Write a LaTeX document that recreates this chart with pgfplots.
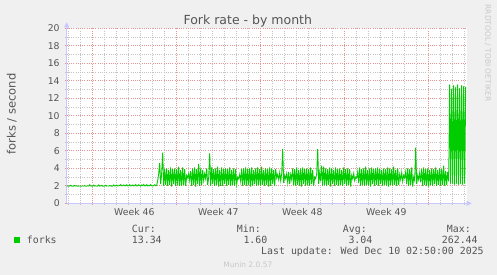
\documentclass[border=0pt]{standalone}
\usepackage{fontspec}
\setmainfont{DejaVu Sans}
\newfontfamily\monofont{DejaVu Sans Mono}
\usepackage{pgfplots}
\pgfplotsset{compat=1.18}
\usepackage{pgfplotstable}
\usetikzlibrary{arrows.meta}
\definecolor{bg}{HTML}{F0F0F0}
\definecolor{lineg}{HTML}{00CC00}
\definecolor{mgrid}{HTML}{E69494}
\definecolor{ngrid}{HTML}{C4C4C4}
\definecolor{axiscol}{HTML}{C8C8FF}
\definecolor{txt}{HTML}{555555}
\definecolor{wm}{HTML}{C8C8C8}

% forks per second, one value every 2 hours (x = hours from left edge)
\pgfplotstableread[row sep=\\]{
y\\
1.98\\ 1.97\\ 1.96\\ 1.98\\ 2.05\\ 1.97\\ 1.96\\ 1.97\\ 2.04\\ 1.98\\
1.97\\ 1.96\\ 1.98\\ 1.97\\ 1.96\\ 1.97\\ 1.98\\ 1.97\\ 2.02\\ 1.96\\
1.97\\ 1.98\\ 1.97\\ 2.12\\ 1.98\\ 1.97\\ 1.96\\ 2.08\\ 1.97\\ 1.98\\
1.97\\ 1.96\\ 2.10\\ 1.97\\ 1.98\\ 2.05\\ 1.97\\ 1.96\\ 1.98\\ 2.06\\
1.97\\ 1.98\\ 1.97\\ 2.04\\ 1.98\\ 1.96\\ 1.97\\ 2.10\\ 1.99\\ 2.00\\
2.08\\ 1.99\\ 2.00\\ 2.05\\ 2.14\\ 2.00\\ 2.01\\ 2.10\\ 2.02\\ 2.00\\
2.12\\ 1.99\\ 2.01\\ 2.13\\ 1.98\\ 2.00\\ 2.10\\ 1.99\\ 2.02\\ 2.14\\
1.98\\ 2.00\\ 2.12\\ 2.04\\ 1.97\\ 2.10\\ 2.00\\ 2.15\\ 1.99\\ 2.02\\
2.13\\ 1.98\\ 2.06\\ 2.01\\ 2.14\\ 2.00\\ 1.99\\ 2.02\\ 2.12\\ 2.00\\
2.05\\ 2.60\\ 3.40\\ 4.60\\ 2.20\\ 3.50\\ 5.80\\ 2.00\\ 3.90\\ 2.10\\
4.00\\ 2.00\\ 3.80\\ 2.10\\ 4.10\\ 1.90\\ 3.90\\ 2.20\\ 4.00\\ 2.00\\
3.90\\ 2.10\\ 4.20\\ 2.00\\ 3.80\\ 2.00\\ 4.10\\ 2.10\\ 3.90\\ 2.00\\
3.20\\ 2.90\\ 3.40\\ 2.60\\ 3.70\\ 2.00\\ 4.00\\ 2.10\\ 4.10\\ 1.90\\
3.90\\ 2.20\\ 4.50\\ 2.00\\ 4.00\\ 2.10\\ 3.80\\ 2.60\\ 3.40\\ 2.80\\
4.00\\ 2.10\\ 3.00\\ 5.70\\ 2.00\\ 4.10\\ 2.20\\ 3.90\\ 2.00\\ 4.00\\
2.10\\ 4.20\\ 1.90\\ 3.80\\ 2.00\\ 4.10\\ 2.00\\ 3.90\\ 2.20\\ 4.00\\
2.00\\ 3.90\\ 2.10\\ 4.10\\ 2.00\\ 3.80\\ 2.10\\ 4.00\\ 2.00\\ 3.90\\
2.20\\ 3.00\\ 2.80\\ 3.30\\ 2.50\\ 3.90\\ 2.00\\ 4.00\\ 2.10\\ 4.10\\
2.00\\ 3.90\\ 2.10\\ 4.00\\ 1.90\\ 4.10\\ 2.00\\ 3.80\\ 2.20\\ 4.00\\
2.00\\ 4.10\\ 2.10\\ 3.90\\ 2.00\\ 4.20\\ 2.10\\ 3.80\\ 2.00\\ 4.00\\
2.10\\ 3.90\\ 1.90\\ 4.10\\ 2.00\\ 4.00\\ 2.20\\ 3.80\\ 2.00\\ 3.90\\
2.90\\ 3.30\\ 2.70\\ 3.50\\ 2.60\\ 3.40\\ 6.20\\ 2.30\\ 3.20\\ 2.80\\
3.40\\ 2.40\\ 3.60\\ 2.20\\ 3.30\\ 2.70\\ 4.00\\ 2.10\\ 3.90\\ 2.00\\
4.10\\ 2.10\\ 3.80\\ 2.00\\ 4.00\\ 1.90\\ 4.10\\ 2.20\\ 3.90\\ 2.00\\
4.00\\ 2.10\\ 3.90\\ 2.00\\ 4.10\\ 2.20\\ 3.80\\ 2.00\\ 3.00\\ 2.80\\
3.40\\ 6.20\\ 2.20\\ 3.50\\ 2.50\\ 4.30\\ 2.00\\ 4.20\\ 2.10\\ 4.00\\
2.00\\ 3.90\\ 2.10\\ 4.10\\ 1.90\\ 4.00\\ 2.20\\ 3.80\\ 2.00\\ 4.10\\
2.10\\ 3.90\\ 2.00\\ 4.00\\ 2.10\\ 3.80\\ 2.00\\ 4.10\\ 2.20\\ 3.90\\
2.00\\ 4.00\\ 2.10\\ 3.90\\ 1.90\\ 3.20\\ 2.80\\ 3.40\\ 2.60\\ 3.00\\
2.90\\ 3.60\\ 2.30\\ 4.10\\ 2.00\\ 3.90\\ 2.10\\ 4.00\\ 2.00\\ 4.20\\
2.10\\ 3.80\\ 2.00\\ 4.00\\ 1.90\\ 4.10\\ 2.20\\ 3.90\\ 2.00\\ 4.00\\
2.10\\ 4.10\\ 2.00\\ 3.90\\ 2.20\\ 3.80\\ 2.00\\ 4.00\\ 2.10\\ 3.90\\
2.00\\ 4.10\\ 1.90\\ 4.00\\ 2.10\\ 3.90\\ 2.00\\ 4.20\\ 2.10\\ 3.80\\
2.00\\ 4.00\\ 2.10\\ 3.30\\ 2.70\\ 3.50\\ 2.50\\ 3.20\\ 2.90\\ 3.60\\
2.20\\ 4.00\\ 2.00\\ 3.90\\ 2.10\\ 4.10\\ 1.90\\ 3.00\\ 2.60\\ 6.35\\
2.20\\ 3.20\\ 2.70\\ 3.50\\ 2.40\\ 3.90\\ 2.00\\ 4.10\\ 2.10\\ 3.90\\
2.00\\ 4.00\\ 1.90\\ 3.80\\ 2.10\\ 4.00\\ 2.00\\ 3.90\\ 2.20\\ 4.10\\
2.00\\ 3.80\\ 2.10\\ 4.00\\ 2.00\\ 3.90\\ 2.10\\ 4.30\\ 2.00\\ 3.70\\
2.10\\ 3.60\\ 2.50\\ 13.60\\ 2.20\\ 13.10\\ 2.20\\ 13.50\\ 2.10\\ 13.30\\
2.20\\ 13.60\\ 2.10\\ 13.20\\ 2.20\\ 13.50\\ 2.10\\ 13.40\\ 2.20\\ 13.34\\
}\forks

\begin{document}
\begin{tikzpicture}[x=1pt,y=1pt]
\fill[bg] (0,0) rectangle (497,275);
\begin{axis}[
  at={(66.7pt,71.7pt)}, anchor=south west,
  scale only axis, width=400pt, height=175pt,
  xmin=0, xmax=800, ymin=0, ymax=20,
  axis background/.style={fill=white},
  axis lines=left,
  axis line style={axiscol, line width=0.8pt, -{Triangle[width=5pt,length=5pt]}},
  x axis line style={shorten >=-5pt},
  y axis line style={shorten >=-6pt},
  xtick={51.2,219.2,387.2,555.2,723.2}, xticklabels={},
  minor xtick={3.2,27.2,...,795.2},
  ytick={0,2,...,20}, minor ytick={1,3,...,19},
  grid=both,
  major grid style={mgrid, line width=0.6pt, dash pattern=on 1pt off 1.2pt},
  minor grid style={ngrid, line width=0.6pt, dash pattern=on 1pt off 1.2pt},
  tick align=outside, major tick length=2pt, minor tick length=2pt,
  tick style={ngrid, line width=0.6pt},
  major tick style={mgrid},
  extra x ticks={135.2,303.2,471.2,639.2},
  extra x tick labels={Week 46,Week 47,Week 48,Week 49},
  extra x tick style={grid=none, major tick length=0pt,
     tick style={draw=none}},
  ticklabel style={font=\fontsize{9.3}{10}\selectfont, text=txt},
  /pgf/number format/assume math mode=true,
  yticklabel style={xshift=-1.5pt},
  xticklabel style={anchor=base, yshift=-12.7pt},
  clip=true,
]
\addplot[lineg, line width=0.9pt, no marks] table[x expr=\coordindex*2, y=y] {\forks};
\end{axis}
% title and labels
\node[anchor=base, text=txt, font=\fontsize{12.5}{14}\selectfont] at (247.8,250.2) {Fork rate - by month};
\node[rotate=90, text=txt, font=\fontsize{11.5}{13}\selectfont] at (11.7,161) {forks / second};
\node[rotate=-90, text=wm, font=\fontsize{7.5}{9}\selectfont] at (487.7,222) {RRDTOOL / TOBI OETIKER};
% legend
\fill[lineg] (14,32.3) rectangle (20,38.3);
\begin{scope}[every node/.style={anchor=base west, inner sep=0pt, text=txt, font=\monofont\fontsize{9.9}{11}\selectfont}]
\node at (26.7,31.8) {forks};
\node at (131.7,42.8) {Cur:};
\node at (131.7,31.8) {13.34};
\node at (236.7,42.8) {Min:};
\node at (243.3,31.8) {1.60};
\node at (342.7,42.8) {Avg:};
\node at (348.3,31.8) {3.04};
\node at (446.7,42.8) {Max:};
\node at (441.7,31.8) {262.44};
\node at (261,20.5) {Last update: Wed Dec 10 02:50:00 2025};
\end{scope}
\node[text=wm, font=\fontsize{7.5}{9}\selectfont] at (247.8,10.7) {Munin 2.0.57};
\end{tikzpicture}
\end{document}
